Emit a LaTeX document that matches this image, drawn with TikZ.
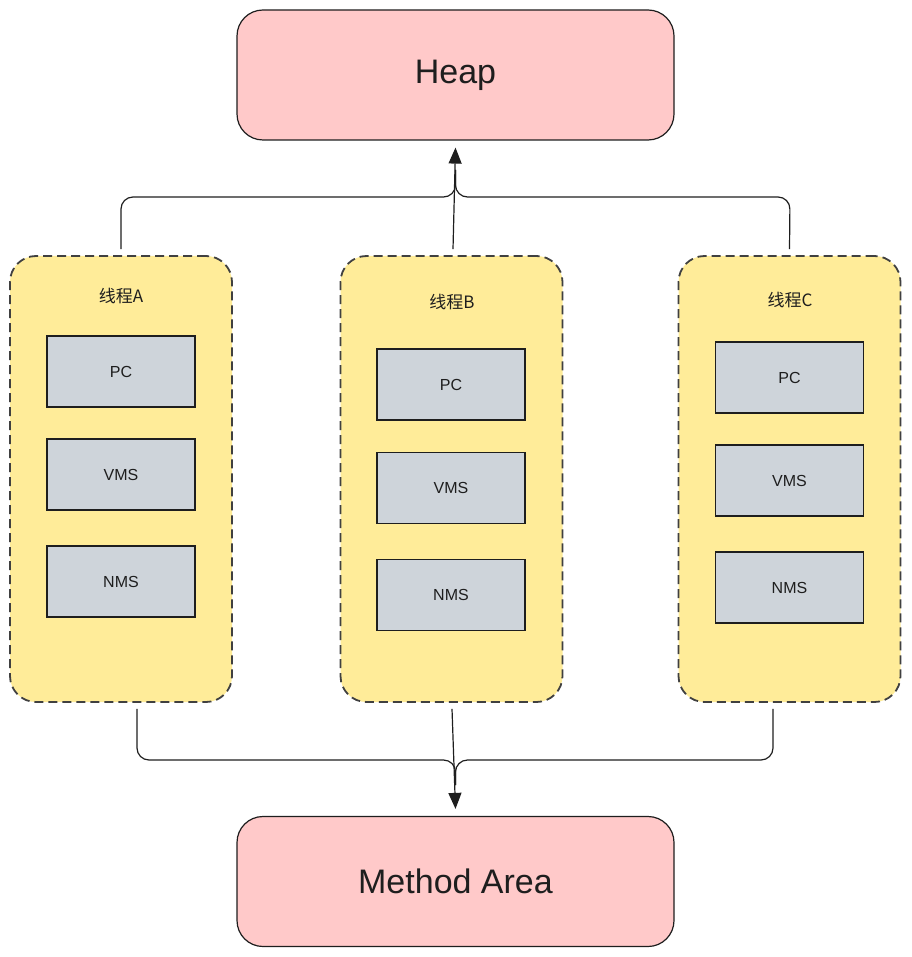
\documentclass[tikz,border=0pt]{standalone}
\usepackage{fontspec}
\setmainfont{Liberation Sans}
\newfontfamily\cjk{Noto Sans CJK SC}
\usetikzlibrary{arrows.meta}
\definecolor{ink}{HTML}{1E1E1E}
\definecolor{pinkfill}{HTML}{FFC9C9}
\definecolor{yellowfill}{HTML}{FFEC99}
\definecolor{grayfill}{HTML}{CED4DA}
\tikzset{
  x=1pt,y=-1pt,
  bigbox/.style={draw=ink,line width=1.2pt,fill=pinkfill,rounded corners=26pt,minimum width=437pt,minimum height=130pt,inner sep=0pt,font=\fontsize{34}{40}\selectfont,text=ink},
  threadbox/.style={draw=ink!85,line width=1.8pt,dash pattern=on 9pt off 5pt,fill=yellowfill,rounded corners=26pt,minimum width=222pt,minimum height=446pt,inner sep=0pt},
  membox/.style={draw=ink,line width=1.1pt,fill=grayfill,minimum width=148pt,minimum height=71pt,inner sep=0pt,font=\fontsize{16}{20}\selectfont,text=ink},
  tlabel/.style={font=\cjk\fontsize{17}{20}\selectfont,text=ink,inner sep=0pt},
  conn/.style={draw=ink,line width=1.2pt,rounded corners=12pt},
  tip/.style={-{Triangle[length=16pt,width=13pt]}}
}
\begin{document}
\begin{tikzpicture}
\useasboundingbox (0,0) rectangle (911,957);
\node[bigbox] (heap) at (455.5,75) {Heap};
\node[bigbox] (method) at (455.5,881.5) {Method Area};
\node[threadbox] (ta) at (121,479) {};
\node[threadbox] (tb) at (451.5,479) {};
\node[threadbox] (tc) at (789.5,479) {};
\node[tlabel] (la) at (121,296) {线程A};
\node[tlabel] (lb) at (452,302) {线程B};
\node[tlabel] (lc) at (790,300) {线程C};
\node[membox] (apc) at (121,371.5) {PC};
\node[membox] (avms) at (121,474.5) {VMS};
\node[membox] (anms) at (121,581.5) {NMS};
\node[membox] (bpc) at (451,384.5) {PC};
\node[membox] (bvms) at (451,488) {VMS};
\node[membox] (bnms) at (451,595) {NMS};
\node[membox] (cpc) at (789.5,377.5) {PC};
\node[membox] (cvms) at (789.5,480.5) {VMS};
\node[membox] (cnms) at (789.5,587.5) {NMS};
% top connectors
\coordinate (topA) at ([yshift=6pt]ta.north);
\coordinate (topC) at ([yshift=6pt]tc.north);
\coordinate (topB) at ([yshift=6pt,xshift=1.5pt]tb.north);
\coordinate (hin) at ([yshift=-7pt]heap.south);
\draw[conn] (topA) -- (121,197) -- (455.5,197) -- (455.5,170);
\draw[conn] (topC) -- (790,197) -- (455.5,197) -- (455.5,170);
\draw[conn,tip] (topB) -- (hin);
% bottom connectors
\coordinate (botA) at ([yshift=-6pt,xshift=16pt]ta.south);
\coordinate (botB) at ([yshift=-6pt,xshift=0.5pt]tb.south);
\coordinate (botC) at ([yshift=-6pt,xshift=-16.5pt]tc.south);
\coordinate (min) at ([yshift=7pt]method.north);
\draw[conn] (botA) -- (137,760) -- (455.5,760) -- (455.5,785);
\draw[conn] (botC) -- (773,760) -- (455.5,760) -- (455.5,785);
\draw[conn,tip] (botB) -- (min);
\end{tikzpicture}
\end{document}
